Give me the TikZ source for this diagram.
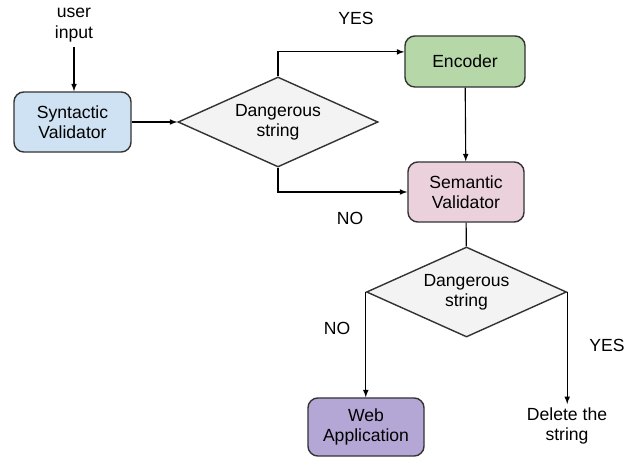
\documentclass[tikz,border=0pt]{standalone}
\usepackage{fontspec}
\setmainfont{Liberation Sans}
\usetikzlibrary{shapes.geometric}
\definecolor{synblue}{HTML}{CFE2F3}
\definecolor{encgreen}{HTML}{B6D7A8}
\definecolor{sempink}{HTML}{EAD1DC}
\definecolor{webpurple}{HTML}{B4A7D6}
\definecolor{diagray}{HTML}{F3F3F3}
\definecolor{edgegray}{HTML}{333333}
\begin{document}
\begin{tikzpicture}[x=0.025cm, y=-0.025cm, >=latex, line width=0.8pt,
    every node/.style={font=\fontsize{12.5}{14.5}\selectfont, align=center},
    box/.style={draw=edgegray, line width=1pt, rounded corners=7pt, inner sep=0pt},
    decision/.style={diamond, draw=edgegray, line width=1pt, fill=diagray, inner sep=0pt,
        aspect=2.22, minimum width=5cm, minimum height=2.25cm}]
            \useasboundingbox (0,0) rectangle (636,457);
            \node (userin) at (74,25) {user\\input};
            \node [box, fill=synblue, minimum width=2.925cm, minimum height=1.5cm] (syn) at (72.5,122) {Syntactic\\Validator};
            \node [decision] (dia1) at (278,122) {Dangerous\\string};
            \node [box, fill=encgreen, minimum width=3cm, minimum height=1.275cm] (enc) at (465,61.5) {Encoder};
            \node [box, fill=sempink, minimum width=2.9cm, minimum height=1.5cm] (sem) at (466,192) {Semantic\\Validator};
            \node [decision] (dia2) at (466.5,292) {Dangerous\\string};
            \node [box, fill=webpurple, minimum width=2.9cm, minimum height=1.45cm] (web) at (366,427) {Web\\Application};
            \node [anchor=north, inner sep=2pt] (delete) at (567,404) {Delete the\\string};
            \node (yes1) at (356,18) {YES};
            \node (no1) at (350,218) {NO};
            \node (no2) at (337,328) {NO};
            \node (yes2) at (607,345) {YES};
            \draw [->] (userin.south) -- (userin.south |- syn.north);
            \draw [->] (syn) -- (dia1);
            \draw [->] (dia1.north) |- ([yshift=0.24cm]enc.west);
            \draw [->] (dia1.south) |- (sem.west);
            \draw [->] (enc) -- (sem);
            \draw (sem) -- (dia2);
            \draw [->] (dia2.west) -- (dia2.west |- web.north);
            \draw [->] (dia2.east) -- (dia2.east |- delete.north);
        \end{tikzpicture}
\end{document}
